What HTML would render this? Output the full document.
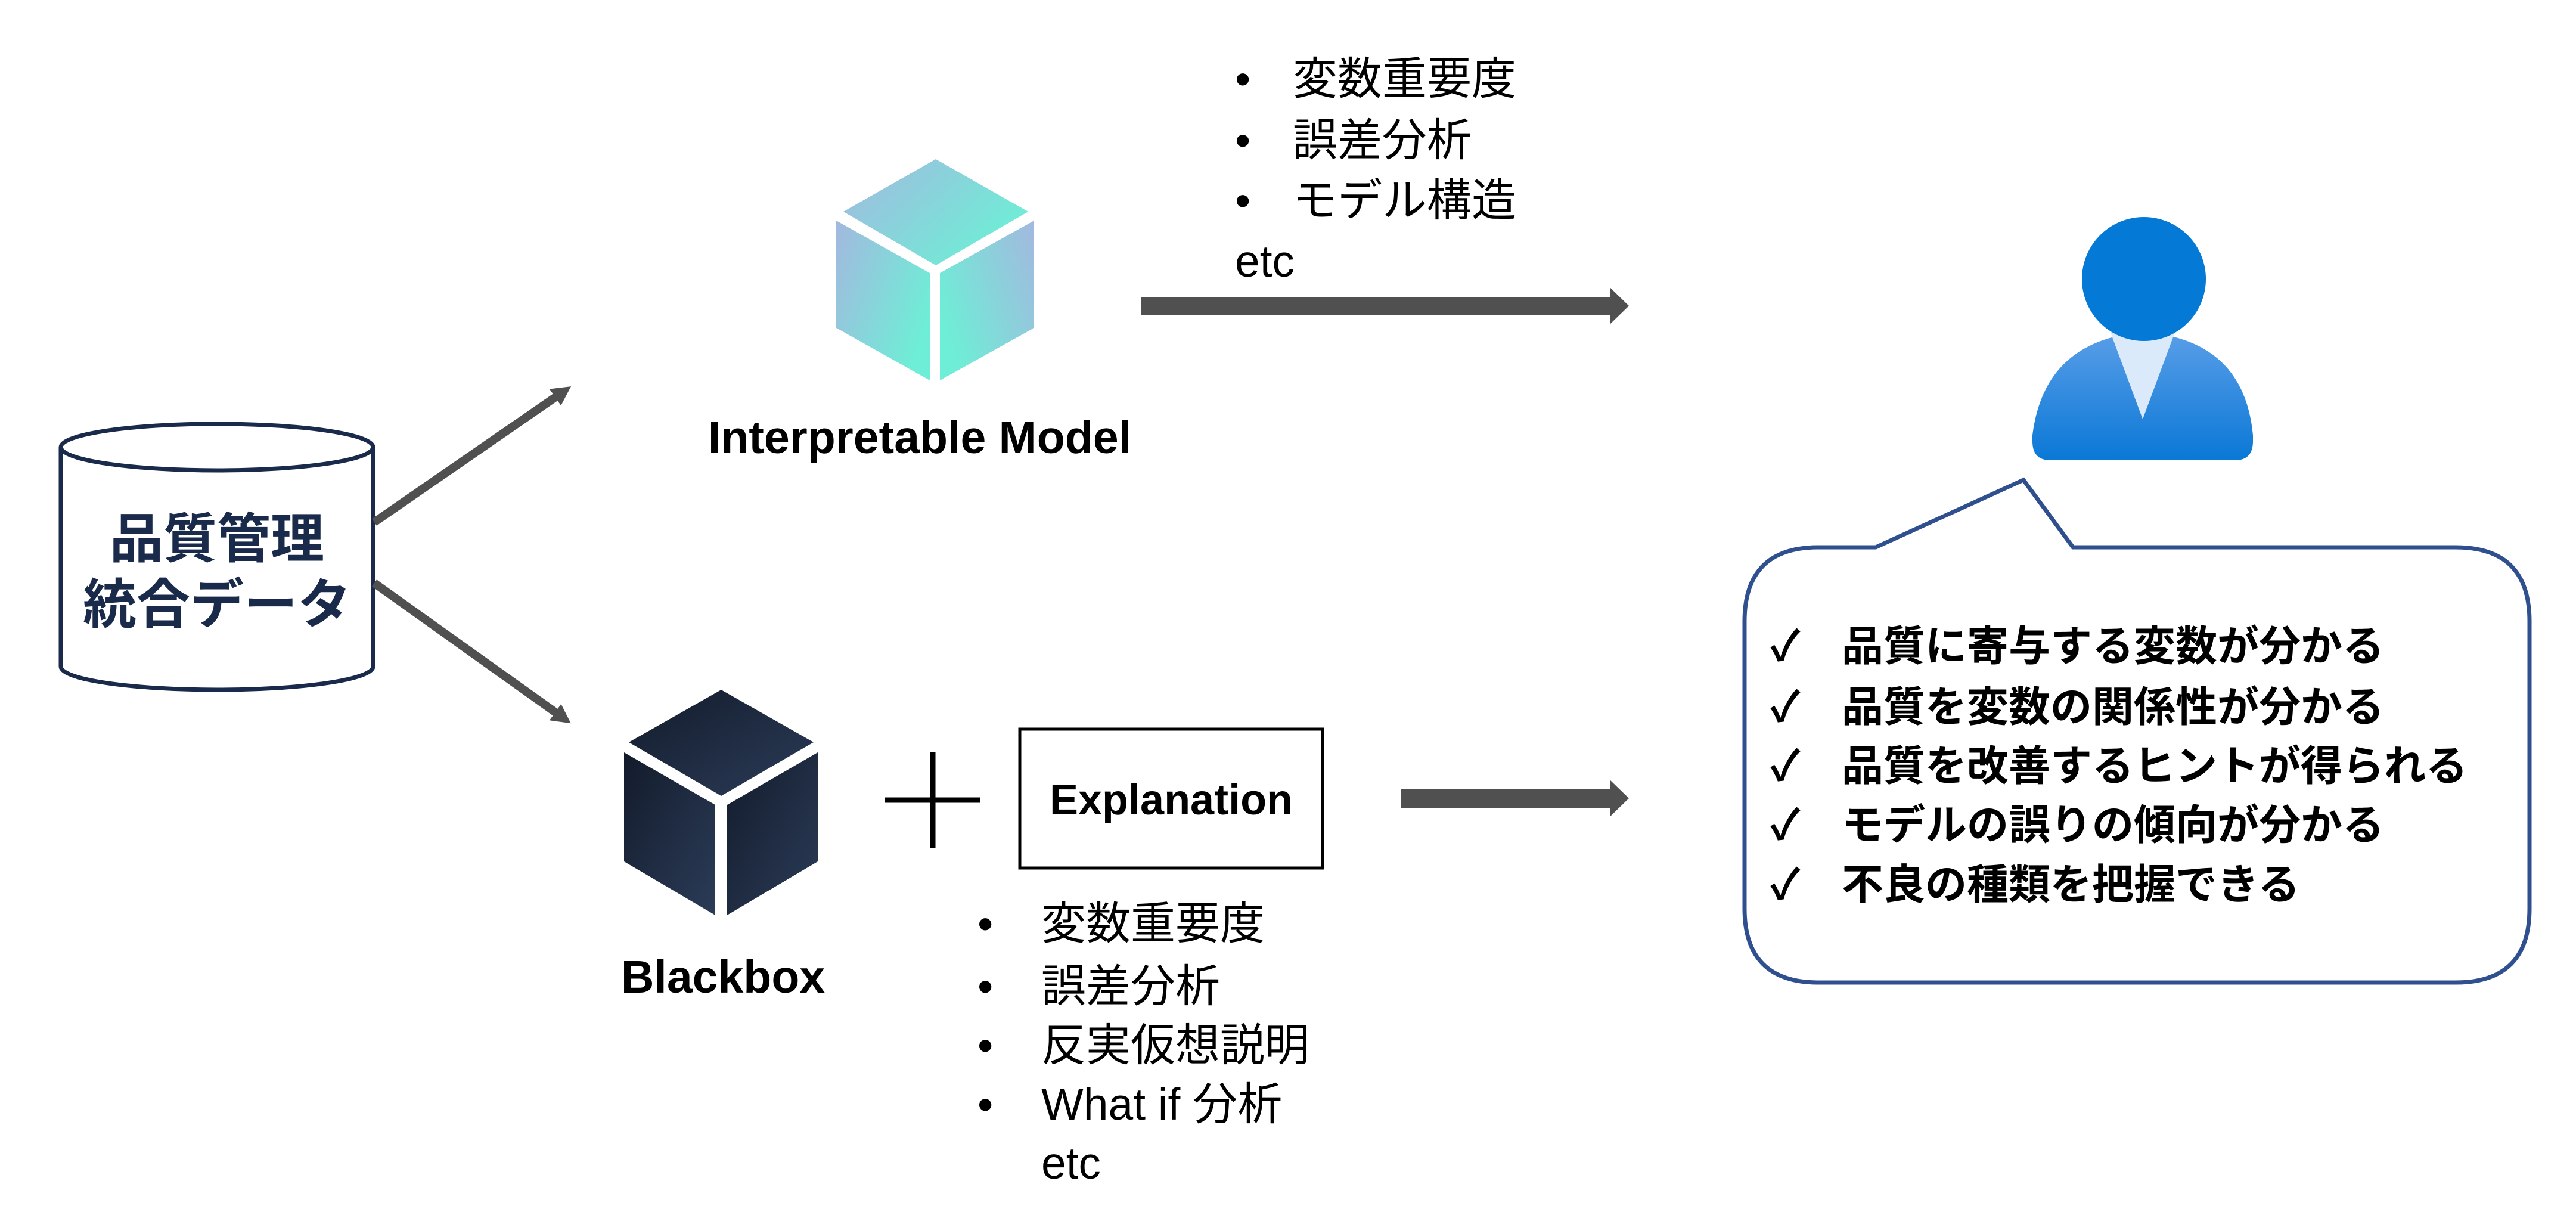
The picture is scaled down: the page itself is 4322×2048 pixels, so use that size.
<!DOCTYPE html>
<html><head><meta charset="utf-8"><style>
html,body{margin:0;padding:0;background:#fff;}
svg{display:block;}
text{font-family:"Liberation Sans","Noto Sans CJK JP",sans-serif;fill:#000;}
.b{font-weight:bold;}
</style></head><body>
<svg width="4322" height="2048" viewBox="0 0 4322 2048" xmlns="http://www.w3.org/2000/svg">
<defs>
<linearGradient id="tg" x1="0" y1="0" x2="1" y2="0.6">
<stop offset="0" stop-color="#a3b8df"/><stop offset="1" stop-color="#6eeed6"/></linearGradient>
<linearGradient id="tg2" x1="1" y1="0" x2="0" y2="0.6">
<stop offset="0" stop-color="#a3b8df"/><stop offset="1" stop-color="#6eeed6"/></linearGradient>
<linearGradient id="dg" x1="0" y1="0" x2="1" y2="1">
<stop offset="0" stop-color="#131b2b"/><stop offset="1" stop-color="#2b3c58"/></linearGradient>
<linearGradient id="pb" x1="0" y1="0" x2="0" y2="1">
<stop offset="0" stop-color="#5a9ee8"/><stop offset="1" stop-color="#0a78d6"/></linearGradient>
<marker id="ah" markerWidth="3" markerHeight="3" refX="0.3" refY="1.2" orient="auto" markerUnits="strokeWidth">
<path d="M0,0 L2.3,1.2 L0,2.4 z" fill="#505050"/></marker>
</defs>

<!-- cylinder -->
<path d="M102,750 L102,1118 A262,39 0 0 0 626,1118 L626,750" fill="#fff" stroke="#1a2a4a" stroke-width="7"/>
<ellipse cx="364" cy="750" rx="262" ry="39" fill="#fff" stroke="#1a2a4a" stroke-width="7"/>
<text x="364" y="935" font-size="90" text-anchor="middle" class="b" style="fill:#1a2a4a">品質管理</text>
<text x="364" y="1045" font-size="90" text-anchor="middle" class="b" style="fill:#1a2a4a">統合データ</text>

<!-- diagonal arrows -->
<line x1="628" y1="876" x2="935" y2="664" stroke="#505050" stroke-width="14" marker-end="url(#ah)"/>
<line x1="628" y1="978" x2="935" y2="1197" stroke="#505050" stroke-width="14" marker-end="url(#ah)"/>

<!-- interpretable cube -->
<polygon points="1570,267 1725,355 1570,445 1415,355" fill="url(#tg)"/>
<polygon points="1403,370 1560,458 1560,638 1403,550" fill="url(#tg)"/>
<polygon points="1577,458 1735,370 1735,550 1577,638" fill="url(#tg2)"/>
<text x="1543" y="760" font-size="77" text-anchor="middle" class="b">Interpretable Model</text>

<!-- top arrow -->
<rect x="1915" y="498" width="787" height="31" fill="#505050"/>
<polygon points="2701,482 2733,513 2701,544" fill="#505050"/>
<g font-size="75">
<text x="2072" y="158">•</text><text x="2169" y="158">変数重要度</text>
<text x="2072" y="261">•</text><text x="2169" y="261">誤差分析</text>
<text x="2072" y="362">•</text><text x="2169" y="362">モデル構造</text>
<text x="2072" y="464">etc</text>
</g>

<!-- blackbox cube -->
<polygon points="1210,1157 1365,1245 1210,1335 1055,1245" fill="url(#dg)"/>
<polygon points="1047,1262 1200,1350 1200,1535 1047,1445" fill="url(#dg)"/>
<polygon points="1220,1350 1372,1262 1372,1445 1220,1535" fill="url(#dg)"/>
<text x="1213" y="1665" font-size="77" text-anchor="middle" class="b">Blackbox</text>

<!-- plus -->
<line x1="1485" y1="1342" x2="1645" y2="1342" stroke="#000" stroke-width="9"/>
<line x1="1565" y1="1262" x2="1565" y2="1422" stroke="#000" stroke-width="9"/>

<!-- explanation box -->
<rect x="1711" y="1223" width="508" height="233" fill="#fff" stroke="#000" stroke-width="5"/>
<text x="1965" y="1366" font-size="72" text-anchor="middle" class="b">Explanation</text>

<rect x="2351" y="1324" width="351" height="31" fill="#505050"/>
<polygon points="2701,1308 2733,1339 2701,1370" fill="#505050"/>

<g font-size="75">
<text x="1640" y="1575">•</text><text x="1747" y="1575">変数重要度</text>
<text x="1640" y="1680">•</text><text x="1747" y="1680">誤差分析</text>
<text x="1640" y="1779">•</text><text x="1747" y="1779">反実仮想説明</text>
<text x="1640" y="1878">•</text><text x="1747" y="1878">What if 分析</text>
<text x="1747" y="1977">etc</text>
</g>

<!-- person -->
<path d="M3410,730 Q3430,570 3597,557 Q3765,570 3780,730 L3780,740 Q3780,772 3750,772 L3440,772 Q3410,772 3410,740 Z" fill="url(#pb)"/>
<polygon points="3540,555 3650,555 3595,703" fill="#dbeafa"/>
<circle cx="3597" cy="468" r="104" fill="#0479d6"/>

<!-- speech bubble -->
<path d="M3051,918 L3147,918 L3395,805 L3478,918 L4120,918 Q4244,918 4244,1042 L4244,1524 Q4244,1648 4120,1648 L3051,1648 Q2927,1648 2927,1524 L2927,1042 Q2927,918 3051,918 Z" fill="#fff" stroke="#2f4f8f" stroke-width="7"/>
<g font-size="70" class="b">
<text x="2970" y="1108">✓</text><text x="3090" y="1108">品質に寄与する変数が分かる</text>
<text x="2970" y="1210">✓</text><text x="3090" y="1210">品質を変数の関係性が分かる</text>
<text x="2970" y="1309">✓</text><text x="3090" y="1309">品質を改善するヒントが得られる</text>
<text x="2970" y="1408">✓</text><text x="3090" y="1408">モデルの誤りの傾向が分かる</text>
<text x="2970" y="1508">✓</text><text x="3090" y="1508">不良の種類を把握できる</text>
</g>
</svg>
</body></html>
